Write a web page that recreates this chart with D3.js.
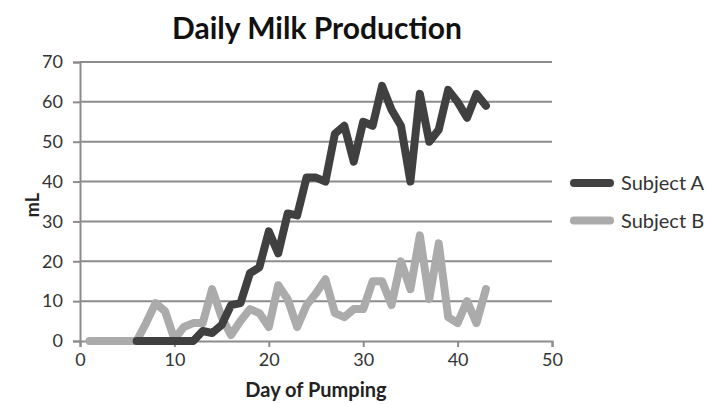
<!DOCTYPE html>
<html>
<head>
<meta charset="utf-8">
<script src="https://cdn.jsdelivr.net/npm/d3@7"></script>
<style>
  html, body { margin: 0; padding: 0; background: #fff; }
  svg { display: block; font-family: Lato, "Open Sans", sans-serif; }
</style>
</head>
<body>
<svg id="chart" width="706" height="404"></svg>
<script>
// Daily volumes (mL) by day of pumping
const daysA = d3.range(6, 44);
const subjectA = [0, 0, 0, 0, 0, 0, 0, 2.5, 2, 4, 9, 9.5, 17, 18.5, 27.5, 22, 32, 31.5, 41, 41, 40, 52, 54, 45, 55, 54, 64, 58, 54, 40, 62, 50, 53, 63, 60, 56, 62, 59];
const daysB = d3.range(1, 44);
const subjectB = [0, 0, 0, 0, 0, 0, 4.5, 9.5, 7.5, 0.5, 3.5, 4.5, 4.5, 13, 6, 1.5, 5, 8, 7, 3.5, 14, 10.5, 3.5, 9, 12, 15.5, 7, 6, 8, 8, 15, 15, 9, 20, 13, 26.5, 10.5, 24.5, 6, 4.5, 10, 4.5, 13];
const xTicks = [0, 10, 20, 30, 40, 50];
const yTicks = [0, 10, 20, 30, 40, 50, 60, 70];
const seriesNames = ["Subject A", "Subject B"];
const seriesColors = ["#404040", "#ababab"];

const svg = d3.select("#chart");
const plot = { left: 80, right: 552, top: 62, bottom: 341 };

const x = d3.scaleLinear().domain([0, 50]).range([plot.left, plot.right]);
const y = d3.scaleLinear().domain([0, 70]).range([plot.bottom, plot.top]);

// horizontal gridlines
svg.append("g")
  .selectAll("line")
  .data(yTicks.filter(v => v > 0))
  .join("line")
  .attr("x1", plot.left).attr("x2", plot.right)
  .attr("y1", d => y(d)).attr("y2", d => y(d))
  .attr("stroke", "#8c8c8c").attr("stroke-width", 2);

// y axis
const yAxis = svg.append("g")
  .attr("transform", `translate(${plot.left},0)`)
  .call(d3.axisLeft(y).tickValues(yTicks).tickSize(7).tickPadding(10).tickFormat(d3.format("d")));
// x axis
const xAxis = svg.append("g")
  .attr("transform", `translate(0,${plot.bottom})`)
  .call(d3.axisBottom(x).tickValues(xTicks).tickSize(6).tickPadding(6).tickFormat(d3.format("d")));

[yAxis, xAxis].forEach(g => {
  g.select(".domain").attr("stroke", "#8c8c8c").attr("stroke-width", 2);
  g.selectAll(".tick line").attr("stroke", "#8c8c8c").attr("stroke-width", 2);
  g.selectAll(".tick text").attr("fill", "#333").style("font-size", "18px").style("font-family", "Lato, sans-serif");
});

// data lines
const line = d3.line().x(d => x(d[0])).y(d => y(d[1]));
const seriesData = [
  daysA.map((d, i) => [d, subjectA[i]]),
  daysB.map((d, i) => [d, subjectB[i]])
];
[1, 0].forEach(i => {
  svg.append("path")
    .datum(seriesData[i])
    .attr("d", line)
    .attr("fill", "none")
    .attr("stroke", seriesColors[i])
    .attr("stroke-width", 8)
    .attr("stroke-linejoin", "round")
    .attr("stroke-linecap", "round");
});

// title
svg.append("text")
  .attr("x", 317).attr("y", 39)
  .attr("text-anchor", "middle")
  .style("font-size", "30px").style("font-weight", "bold")
  .attr("fill", "#111")
  .text("Daily Milk Production");

// axis titles
svg.append("text")
  .attr("x", 316).attr("y", 397)
  .attr("text-anchor", "middle")
  .style("font-size", "20px").style("font-weight", "bold")
  .attr("fill", "#222")
  .text("Day of Pumping");

svg.append("text")
  .attr("transform", "translate(39,205) rotate(-90)")
  .attr("text-anchor", "middle")
  .style("font-size", "18px").style("font-weight", "bold")
  .attr("fill", "#222")
  .text("mL");

// legend
const legend = svg.append("g").attr("transform", "translate(574,183)");
seriesNames.forEach((name, i) => {
  const row = legend.append("g").attr("transform", `translate(0,${i * 37.5})`);
  row.append("line")
    .attr("x1", 0).attr("x2", 36)
    .attr("stroke", seriesColors[i]).attr("stroke-width", 8)
    .attr("stroke-linecap", "round");
  row.append("text")
    .attr("x", 47).attr("y", 0).attr("dy", "0.35em")
    .style("font-size", "20px").attr("fill", "#333")
    .text(name);
});
</script>
</body>
</html>
